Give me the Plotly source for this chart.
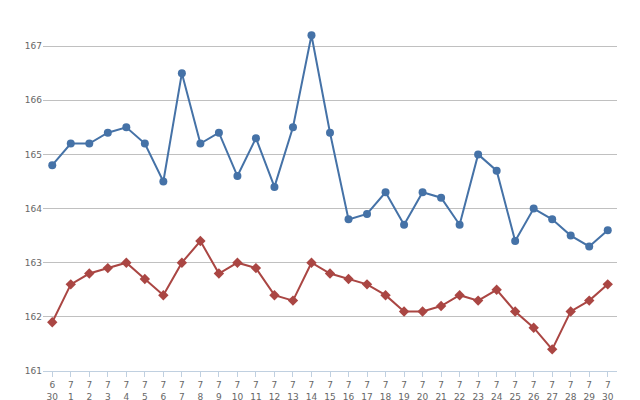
import plotly.graph_objects as go

months = ["6"] + ["7"] * 30
days = ["30"] + [str(d) for d in range(1, 31)]
tick_labels = [f"{m}<br>{d}" for m, d in zip(months, days)]

series_blue = [164.8, 165.2, 165.2, 165.4, 165.5, 165.2, 164.5, 166.5, 165.2, 165.4,
               164.6, 165.3, 164.4, 165.5, 167.2, 165.4, 163.8, 163.9, 164.3, 163.7,
               164.3, 164.2, 163.7, 165.0, 164.7, 163.4, 164.0, 163.8, 163.5, 163.3, 163.6]
series_red = [161.9, 162.6, 162.8, 162.9, 163.0, 162.7, 162.4, 163.0, 163.4, 162.8,
              163.0, 162.9, 162.4, 162.3, 163.0, 162.8, 162.7, 162.6, 162.4, 162.1,
              162.1, 162.2, 162.4, 162.3, 162.5, 162.1, 161.8, 161.4, 162.1, 162.3, 162.6]

x = list(range(len(tick_labels)))

fig = go.Figure()
fig.add_trace(go.Scatter(x=x, y=series_blue, mode="lines+markers",
                         line=dict(color="#4572A7", width=2),
                         marker=dict(symbol="circle", size=8, color="#4572A7")))
fig.add_trace(go.Scatter(x=x, y=series_red, mode="lines+markers",
                         line=dict(color="#AA4643", width=2),
                         marker=dict(symbol="diamond", size=8, color="#AA4643")))

fig.update_layout(
    width=640, height=400,
    margin=dict(l=35, r=31, t=11, b=37, autoexpand=False),
    plot_bgcolor="white", paper_bgcolor="white",
    showlegend=False,
    font=dict(family="DejaVu Sans", size=9, color="#666666"),
    xaxis=dict(range=[-0.5, 30.5], tickvals=x, ticktext=tick_labels,
               showgrid=False, showline=True, linecolor="#C0D0E0",
               ticks="outside", tickcolor="#C0D0E0", ticklen=5, zeroline=False,
               automargin=False),
    yaxis=dict(range=[161, 167.5], tickvals=[161, 162, 163, 164, 165, 166, 167],
               showgrid=True, gridcolor="#C0C0C0", zeroline=False,
               showline=False, automargin=False),
)

fig.write_html("out.html")
